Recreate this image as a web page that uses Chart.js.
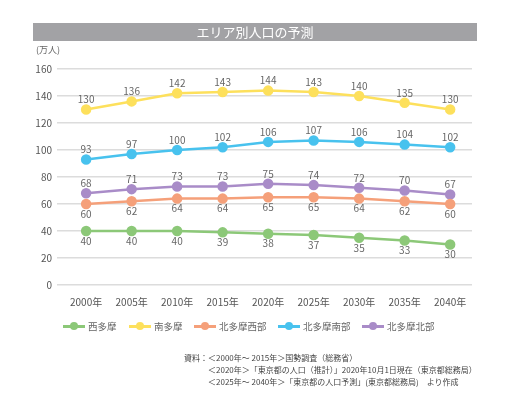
<!DOCTYPE html>
<html lang="ja">
<head>
<meta charset="utf-8">
<script src="https://cdn.jsdelivr.net/npm/chart.js@4/dist/chart.umd.min.js"></script>
<style>
  html, body { margin: 0; padding: 0; background: #fff; }
  body { width: 508px; height: 397px; position: relative; overflow: hidden;
         font-family: "Noto Sans CJK JP", "Noto Sans", sans-serif; color: #555; }
  #wrap { position: absolute; left: 0; top: 0; width: 508px; height: 397px; }
  .title { position: absolute; left: 33px; top: 23px; width: 444px; height: 18px;
           background: #a2a2a5; color: #fff; font-size: 13px; line-height: 18px; text-align: center; }
  .unit { position: absolute; left: 36px; top: 43px; font-size: 9px; color: #666; }
  #legend { position: absolute; left: 0; top: 319px; width: 508px; height: 14px; }
  .lg { position: absolute; top: 0; height: 14px; font-size: 9.5px; line-height: 14px; color: #666; white-space: nowrap; }
  .lg .ln { position: absolute; left: 0; top: 6px; width: 22px; height: 2.5px; }
  .lg .dot { position: absolute; left: 7px; top: 3px; width: 8px; height: 8px; border-radius: 50%; }
  .lg .tx { position: absolute; left: 25px; top: 0; }
  .src { position: absolute; left: 184px; top: 352px; font-size: 8px; line-height: 12px; color: #444; white-space: nowrap; }
  .src div { padding-left: 24px; }
  .src div:first-child { padding-left: 0; }
</style>
</head>
<body>
<div id="wrap"><canvas id="chart" width="508" height="397"></canvas></div>
<div class="title">エリア別人口の予測</div>
<div class="unit">(万人)</div>
<div id="legend"></div>
<div class="src">
  <div>資料：＜2000年～ 2015年＞国勢調査（総務省）</div>
  <div>＜2020年＞「東京都の人口（推計）」2020年10月1日現在（東京都総務局）</div>
  <div>＜2025年～ 2040年＞「東京都の人口予測」(東京都総務局)　より作成</div>
</div>
<script>
  const years = ["2000", "2005", "2010", "2015", "2020", "2025", "2030", "2035", "2040"];
  const yTicks = [0, 20, 40, 60, 80, 100, 120, 140, 160];

  const nishiTama = [40, 40, 40, 39, 38, 37, 35, 33, 30];
  const minamiTama = [130, 136, 142, 143, 144, 143, 140, 135, 130];
  const kitaTamaWest = [60, 62, 64, 64, 65, 65, 64, 62, 60];
  const kitaTamaSouth = [93, 97, 100, 102, 106, 107, 106, 104, 102];
  const kitaTamaNorth = [68, 71, 73, 73, 75, 74, 72, 70, 67];

  const series = [
    { label: "西多摩", values: nishiTama, color: "#8cc878", below: true, lx: 63 },
    { label: "南多摩", values: minamiTama, color: "#fde05c", below: false, lx: 129 },
    { label: "北多摩西部", values: kitaTamaWest, color: "#f5a07a", below: true, lx: 194 },
    { label: "北多摩南部", values: kitaTamaSouth, color: "#48c2ee", below: false, lx: 278 },
    { label: "北多摩北部", values: kitaTamaNorth, color: "#a98cc8", below: false, lx: 362 },
  ];

  // html legend: line + dot + text
  const legend = document.querySelector("#legend");
  series.forEach((s) => {
    const item = document.createElement("div");
    item.className = "lg";
    item.style.left = s.lx + "px";
    item.innerHTML = `<span class="ln" style="background:${s.color}"></span>` +
      `<span class="dot" style="background:${s.color}"></span>` +
      `<span class="tx">${s.label}</span>`;
    legend.appendChild(item);
  });

  const valueLabels = {
    id: "valueLabels",
    afterDatasetsDraw(chart) {
      const ctx = chart.ctx;
      ctx.save();
      ctx.font = "10px 'Noto Sans CJK JP', sans-serif";
      ctx.fillStyle = "#666";
      ctx.textAlign = "center";
      ctx.textBaseline = "middle";
      chart.data.datasets.forEach((ds, i) => {
        chart.getDatasetMeta(i).data.forEach((pt, j) => {
          const dy = ds.below ? 10 : -10;
          ctx.fillText(String(ds.data[j].y), pt.x, pt.y + dy);
        });
      });
      ctx.restore();
    },
  };

  new Chart(document.querySelector("#chart"), {
    type: "line",
    data: {
      datasets: series.map((s) => ({
        label: s.label,
        data: s.values.map((v, i) => ({ x: i, y: v })),
        borderColor: s.color,
        backgroundColor: s.color,
        borderWidth: 2.5,
        pointRadius: 4,
        pointHoverRadius: 4,
        tension: 0,
        below: s.below,
      })),
    },
    options: {
      responsive: false,
      animation: false,
      layout: { padding: { left: 0, right: 36, top: 69, bottom: 82 } },
      plugins: { legend: { display: false }, tooltip: { enabled: false } },
      scales: {
        x: {
          type: "linear",
          min: -0.64,
          max: 8.48,
          grid: { display: false, drawTicks: false },
          border: { display: false },
          afterBuildTicks: (scale) => {
            scale.ticks = years.map((y, i) => ({ value: i }));
          },
          afterFit: (scale) => { scale.height = 30; },
          ticks: {
            padding: 11,
            autoSkip: false,
            maxRotation: 0,
            color: "#555",
            font: { family: "'Noto Sans CJK JP', sans-serif", size: 10 },
            callback: (v) => years[v] + "年",
          },
        },
        y: {
          min: 0,
          max: 160,
          afterBuildTicks: (scale) => {
            scale.ticks = yTicks.map((v) => ({ value: v }));
          },
          afterFit: (scale) => { scale.width = 57; },
          grid: { color: "#dcdcdc", lineWidth: 1.5, drawTicks: false },
          border: { display: false },
          ticks: {
            padding: 5,
            color: "#555",
            font: { family: "'Noto Sans CJK JP', sans-serif", size: 10 },
          },
        },
      },
    },
    plugins: [valueLabels],
  });
</script>
</body>
</html>
